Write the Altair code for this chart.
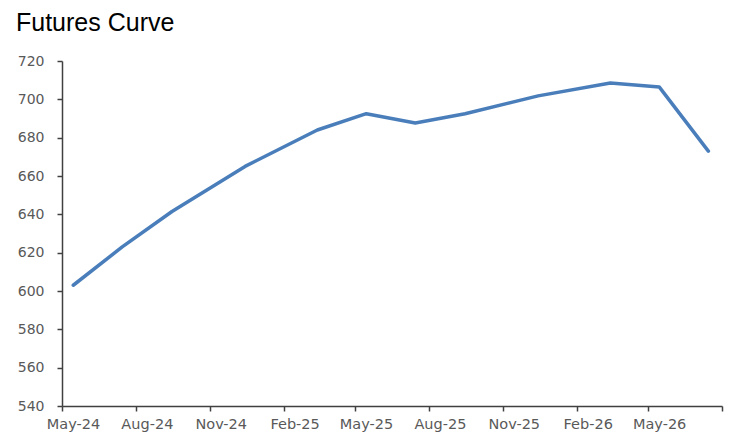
import altair as alt
import pandas as pd

# Contract months (plotted mid-month) and settlement prices
contract_dates = ["2024-05-15", "2024-07-15", "2024-09-15", "2024-12-15",
                  "2025-03-15", "2025-05-15", "2025-07-15", "2025-09-15",
                  "2025-12-15", "2026-03-15", "2026-05-15", "2026-07-15"]
prices = [603, 623, 641.5, 665, 684, 692.5, 687.7, 692.5, 701.8, 708.5, 706.4, 673]

tick_dates = ["2024-05-01", "2024-08-01", "2024-11-01", "2025-02-01",
              "2025-05-01", "2025-08-01", "2025-11-01", "2026-02-01",
              "2026-05-01", "2026-08-01"]
y_ticks = [540, 560, 580, 600, 620, 640, 660, 680, 700, 720]

df = pd.DataFrame({"date": contract_dates, "price": prices})


def dt(s):
    y, m, d = (int(v) for v in s.split("-"))
    return alt.DateTime(year=y, month=m, date=d, utc=True)


axis_font = "DejaVu Sans"
label_color = "#595959"
axis_color = "#404040"

chart = alt.Chart(df).mark_line(
    color="#4A7EBB", strokeWidth=3.5, strokeCap="round", strokeJoin="round"
).encode(
    x=alt.X(
        "date:T",
        scale=alt.Scale(type="utc", domain=[dt(tick_dates[0]), dt(tick_dates[-1])]),
        axis=alt.Axis(
            values=[dt(t) for t in tick_dates],
            labelExpr="datum.value >= utc(2026, 5, 15) ? '' : utcFormat(datum.value, '%b-%y')",
            title=None,
            grid=False,
            domainColor=axis_color,
            domainWidth=1.5,
            tickColor=axis_color,
            tickWidth=1.5,
            tickSize=5,
            labelFont=axis_font,
            labelFontSize=14.5,
            labelColor=label_color,
            labelPadding=6,
            labelOffset=11,
            labelFlush=False,
            labelOverlap=False,
        ),
    ),
    y=alt.Y(
        "price:Q",
        scale=alt.Scale(domain=[540, 720], nice=False, zero=False),
        axis=alt.Axis(
            values=y_ticks,
            title=None,
            grid=False,
            domainColor=axis_color,
            domainWidth=1.5,
            tickColor=axis_color,
            tickWidth=1.5,
            tickSize=5,
            labelFont=axis_font,
            labelFontSize=14,
            labelColor=label_color,
            labelPadding=13,
        ),
    ),
).properties(
    width=660,
    height=345,
    background="white",
    title=alt.TitleParams(
        "Futures Curve",
        anchor="start",
        frame="group",
        font="Liberation Sans",
        fontSize=25,
        fontWeight="normal",
        color="#000000",
        dx=-46,
        offset=18,
    ),
    autosize=alt.AutoSizeParams(type="none"),
    padding={"left": 62, "top": 61, "right": 27, "bottom": 31},
).configure_view(stroke="transparent", strokeWidth=0)

chart.save("out.html", embed_options={"renderer": "svg", "actions": False})
